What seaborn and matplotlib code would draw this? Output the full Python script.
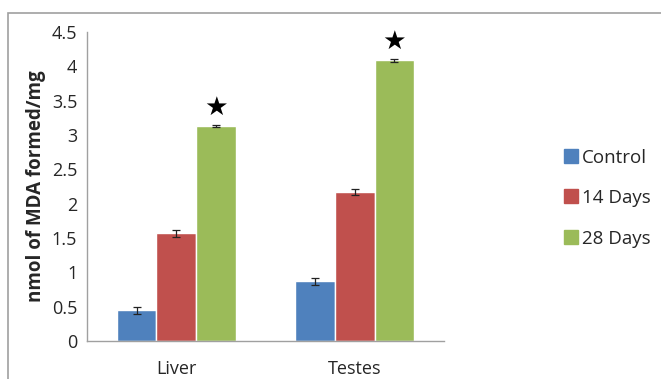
import pandas as pd
import matplotlib.pyplot as plt
import seaborn as sns
from matplotlib.patches import Rectangle
from matplotlib.lines import Line2D

# data
tissues = ["Liver", "Testes"]
groups = ["Control", "14 Days", "28 Days"]
control = [0.45, 0.87]
days14 = [1.57, 2.17]
days28 = [3.13, 4.09]
err_control = [0.05, 0.05]
err_14 = [0.05, 0.05]
err_28 = [0.01, 0.02]

colors = ["#4F81BD", "#C0504D", "#9BBB59"]

df = pd.DataFrame({
    "tissue": tissues * 3,
    "group": [g for g in groups for _ in tissues],
    "value": control + days14 + days28,
})
errs = [err_control, err_14, err_28]

sns.set_style("white")
plt.rcParams["font.family"] = ["Open Sans", "DejaVu Sans"]

fig = plt.figure(figsize=(6.61, 3.79), dpi=100)
ax = fig.add_axes([87 / 661, 1 - 341 / 379, (444 - 87) / 661, (341 - 32) / 379])

sns.barplot(data=df, x="tissue", y="value", hue="group", palette=colors,
            width=0.665, errorbar=None, saturation=1, ax=ax, legend=False)

# error bars and stars
for cont, e in zip(ax.containers, errs):
    xs = [b.get_x() + b.get_width() / 2 for b in cont]
    ys = [b.get_height() for b in cont]
    ax.errorbar(xs, ys, yerr=e, fmt="none", ecolor="#222222",
                elinewidth=0.9, capsize=3, capthick=0.9)
for b in ax.containers[2]:
    ax.text(b.get_x() + b.get_width() / 2, b.get_height() + 0.07, "★",
            ha="center", va="bottom", fontsize=19, color="black",
            family="DejaVu Sans")

ax.set_ylim(0, 4.5)
ax.set_xlim(-0.5, 1.5)
ax.set_yticks([0, 0.5, 1, 1.5, 2, 2.5, 3, 3.5, 4, 4.5])
ax.set_yticklabels(["0", "0.5", "1", "1.5", "2", "2.5", "3", "3.5", "4", "4.5"])
ax.set_xticks([0, 1])
ax.set_xticklabels(tissues)
ax.set_xticks([-0.5, 0.5, 1.5], minor=True)
ax.tick_params(axis="x", which="major", length=0, pad=14, labelsize=13)
ax.tick_params(axis="x", which="minor", length=5, color="#a0a0a0", direction="out")
ax.tick_params(axis="y", length=4, color="#a0a0a0", direction="out", labelsize=13, pad=3)
ax.set_xlabel("")
ax.set_ylabel("nmol of MDA formed/mg", fontsize=13.5, fontweight="bold", labelpad=4)

for s in ["top", "right"]:
    ax.spines[s].set_visible(False)
for s in ["left", "bottom"]:
    ax.spines[s].set_color("#a0a0a0")
    ax.spines[s].set_linewidth(1)

handles = [Line2D([], [], marker="s", linestyle="none", markersize=10,
                  markerfacecolor=c, markeredgecolor=c) for c in colors]
fig.legend(handles, groups, loc="center left", bbox_to_anchor=(553 / 661, 1 - 198 / 379),
           frameon=False, fontsize=13.5, handletextpad=0.15, labelspacing=1.2,
           handlelength=0.9, borderpad=0)

# outer chart frame
fig.patches.append(Rectangle((8 / 661, -0.1), 1.2, 1 - 13 / 379 + 0.1,
                             transform=fig.transFigure, fill=False,
                             edgecolor="#a0a0a0", linewidth=1.2))

fig.savefig("out.png", dpi=100)
